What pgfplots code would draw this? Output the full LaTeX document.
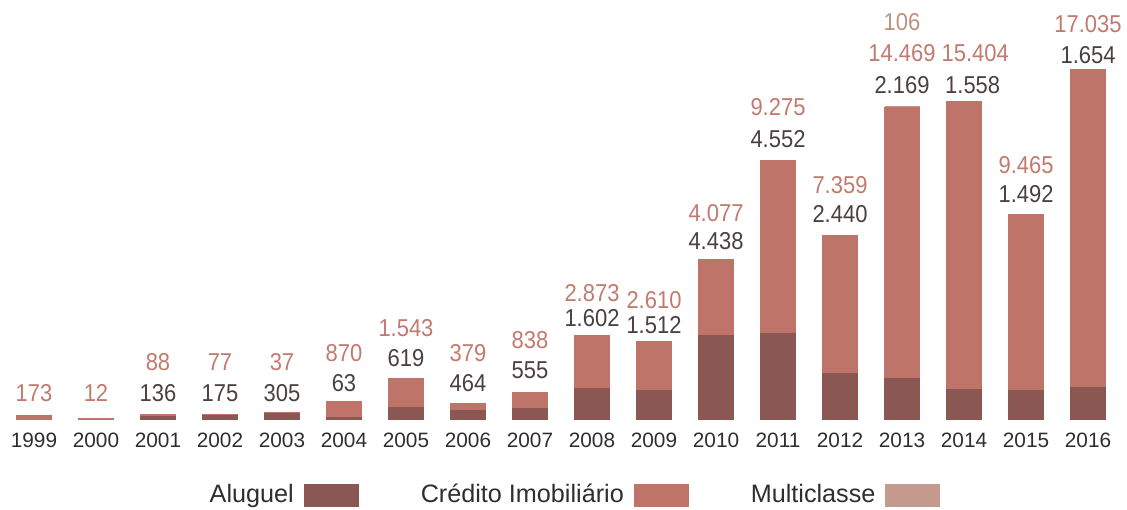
\documentclass[border=0pt]{standalone}
\usepackage{fontspec}
\setmainfont{Liberation Sans}
\newfontfamily\narrowfont{Liberation Sans}[FakeStretch=0.9]
\usepackage{pgfplots}
\pgfplotsset{compat=1.18}
\usepackage{pgfplotstable}

\definecolor{alug}{HTML}{8A5753}
\definecolor{cred}{HTML}{BE7468}
\definecolor{multi}{HTML}{C39A8D}
\definecolor{credtxt}{HTML}{C27A6F}
\definecolor{alugtxt}{HTML}{4A4040}
\definecolor{multitxt}{HTML}{C0907F}
\definecolor{yeartxt}{HTML}{2E2E2E}

\pgfplotstableread{
x year alug cred multi
0 1999 0 173 0
1 2000 0 12 0
2 2001 136 88 0
3 2002 175 77 0
4 2003 305 37 0
5 2004 63 870 0
6 2005 619 1543 0
7 2006 464 379 0
8 2007 555 838 0
9 2008 1602 2873 0
10 2009 1512 2610 0
11 2010 4438 4077 0
12 2011 4552 9275 0
13 2012 2440 7359 0
14 2013 2169 14469 106
15 2014 1558 15404 0
16 2015 1492 9465 0
17 2016 1654 17035 0
}\datatable

% label positions (x, y of label centre in data units, text)
\pgfplotstableread{
x y t
0 1392 173
1 1392 12
2 3051 88
3 3051 77
4 3051 37
5 3533 870
6 4872 1.543
7 3533 379
8 4229 838
9 6745 2.873
10 6370 2.610
11 11028 4.077
12 16702 9.275
13 12527 7.359
14 19593 14.469
15.18 19593 15.404
16 13597 9.465
17 21146 17.035
}\credlabels

\pgfplotstableread{
x y t
2 1392 136
3 1392 175
4 1392 305
5 1927 63
6 3266 619
7 1927 464
8 2623 555
9 5407 1.602
10 5032 1.512
11 9529 4.438
12 14989 4.552
13 10974 2.440
14 17880 2.169
15.14 17880 1.558
16 12045 1.492
17 19486 1.654
}\aluglabels

\pgfplotstableread{
x y t
14 21253 106
}\multilabels

\begin{document}
\begin{tikzpicture}
\pgfplotsset{
  common/.style={
    scale only axis, width=563.5pt, height=209.5pt,
    xmin=-0.548, xmax=17.629, ymin=0, ymax=22430,
    clip=false,
  },
  mylegimg/.style={legend image code/.code={\fill[##1,draw=none] (0pt,-5.75pt) rectangle (27.5pt,5.75pt);}},
}
\begin{axis}[common,
  at={(0,0)}, anchor=south west,
  ybar stacked, bar width=17.5pt,
  axis x line*=bottom, axis y line=none,
  x axis line style={draw=none},
  xtick style={draw=none},
  xtick={0,...,17},
  xticklabels={1999,2000,2001,2002,2003,2004,2005,2006,2007,2008,2009,2010,2011,2012,2013,2014,2015,2016},
  xticklabel style={anchor=center, yshift=-10.5pt, font=\fontsize{10.4}{12}\selectfont, text=yeartxt},
  legend plot pos=right,
  legend columns=3,
  legend style={draw=none, fill=none, at={(0.5085,-0.1814)}, anchor=center,
    font=\fontsize{12.6}{14}\selectfont, text=yeartxt,
    /tikz/every odd column/.append style={column sep=3pt},
    /tikz/every even column/.append style={column sep=29pt}},
]
\addplot[fill=alug, draw=alug, line width=0.7pt, mylegimg] table[x=x,y=alug]{\datatable};
\addlegendentry{Aluguel}
\addplot[fill=cred, draw=cred, line width=0.7pt, mylegimg] table[x=x,y=cred]{\datatable};
\addlegendentry{Crédito Imobiliário}
\addplot[fill=multi, draw=none, mylegimg] table[x=x,y=multi]{\datatable};
\addlegendentry{Multiclasse}
\end{axis}
\begin{axis}[common, at={(0,0)}, anchor=south west, hide axis]
\addplot[draw=none, nodes near coords, point meta=explicit symbolic,
  nodes near coords style={anchor=center, font=\narrowfont\fontsize{12.2}{14}\selectfont, text=credtxt}]
  table[x=x,y=y,meta=t]{\credlabels};
\addplot[draw=none, nodes near coords, point meta=explicit symbolic,
  nodes near coords style={anchor=center, font=\narrowfont\fontsize{12.2}{14}\selectfont, text=alugtxt}]
  table[x=x,y=y,meta=t]{\aluglabels};
\addplot[draw=none, nodes near coords, point meta=explicit symbolic,
  nodes near coords style={anchor=center, font=\narrowfont\fontsize{12.2}{14}\selectfont, text=multitxt}]
  table[x=x,y=y,meta=t]{\multilabels};
\end{axis}
\pgfresetboundingbox
\path (0pt,-45pt) rectangle (563.5pt,209.5pt);
\end{tikzpicture}
\end{document}
